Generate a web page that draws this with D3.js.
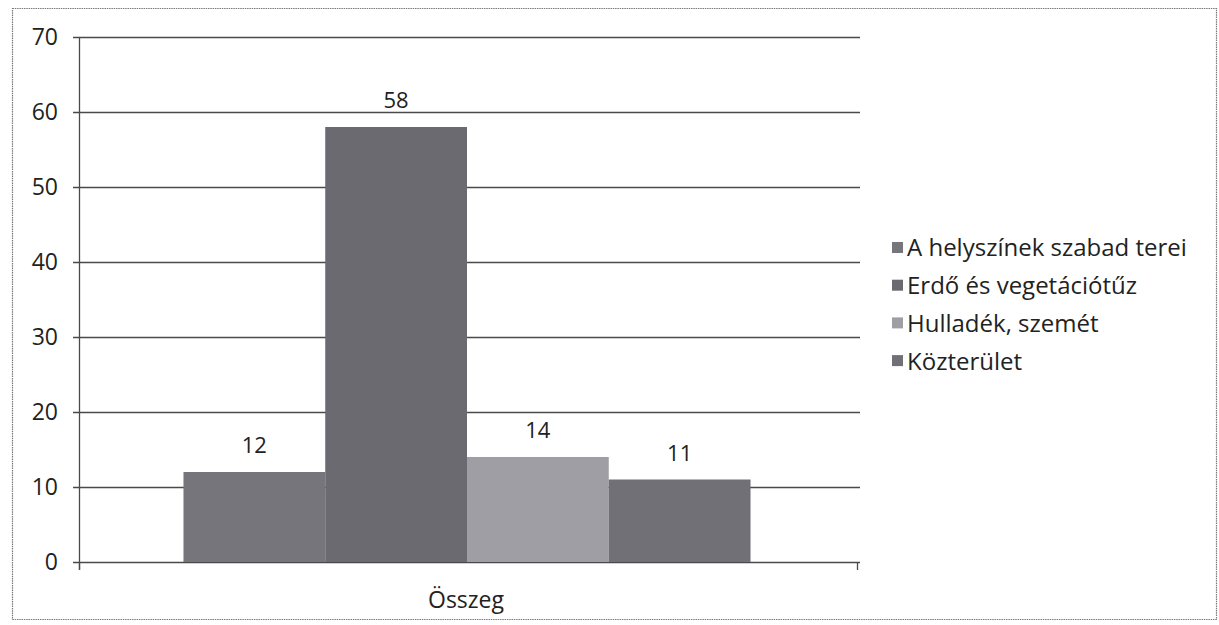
<!DOCTYPE html>
<html>
<head>
<meta charset="utf-8">
<script src="https://cdn.jsdelivr.net/npm/d3@7"></script>
<style>
  html, body { margin: 0; padding: 0; background: #fff; }
  svg { display: block; font-family: "Open Sans", "Noto Sans", sans-serif; }
</style>
</head>
<body>
<svg id="chart" width="1219" height="625"></svg>
<script>
const category = "Összeg";
const series = ["A helyszínek szabad terei", "Erdő és vegetációtűz", "Hulladék, szemét", "Közterület"];
const values = [12, 58, 14, 11];
const colors = ["#76757c", "#6b6a71", "#9f9ea4", "#717077"];
const yTicks = [0, 10, 20, 30, 40, 50, 60, 70];

(function () {
const svg = d3.select("#chart");

// outer frame
svg.append("rect")
  .attr("x", 12.5).attr("y", 8.5).attr("width", 1204).attr("height", 611)
  .attr("fill", "none").attr("stroke", "#7a7a7a").attr("stroke-width", 1.2)
  .attr("stroke-dasharray", "1.5,0.8");

const pLeft = 79, pRight = 857, pTop = 37, pBottom = 562;
const y = d3.scaleLinear().domain([0, 70]).range([pBottom, pTop]);
const xCat = d3.scaleBand().domain([category]).range([pLeft - 1, pRight - 1]).paddingInner(0).paddingOuter(0.186);
const xSer = d3.scaleBand().domain(series).range([xCat(category), xCat(category) + xCat.bandwidth()]);

const g = svg.append("g");

// gridlines
g.append("g").selectAll("line").data(yTicks).join("line")
  .attr("x1", pLeft - 6).attr("x2", 860)
  .attr("y1", d => Math.round(y(d)) + 0.5).attr("y2", d => Math.round(y(d)) + 0.5)
  .attr("stroke", "#4a4a4a").attr("stroke-width", 1.3);

// bars
g.append("g").selectAll("rect").data(series).join("rect")
  .attr("x", d => xSer(d))
  .attr("width", xSer.bandwidth())
  .attr("y", (d, i) => y(values[i]))
  .attr("height", (d, i) => y(0) - y(values[i]))
  .attr("fill", (d, i) => colors[i]);

// value labels
g.append("g").selectAll("text").data(series).join("text")
  .attr("x", d => xSer(d) + xSer.bandwidth() / 2)
  .attr("y", (d, i) => y(values[i]) - 19)
  .attr("text-anchor", "middle")
  .attr("font-size", 22).attr("fill", "#222")
  .text((d, i) => values[i]);

// y axis line
g.append("line").attr("x1", pLeft + 0.5).attr("x2", pLeft + 0.5)
  .attr("y1", pTop).attr("y2", pBottom + 8)
  .attr("stroke", "#4a4a4a").attr("stroke-width", 1.3);
// x axis end ticks
[pLeft, pRight].forEach(xx => {
  g.append("line").attr("x1", xx + 0.5).attr("x2", xx + 0.5)
    .attr("y1", pBottom).attr("y2", pBottom + 8)
    .attr("stroke", "#4a4a4a").attr("stroke-width", 1.3);
});

// y tick labels
g.append("g").selectAll("text").data(yTicks).join("text")
  .attr("x", 58).attr("y", d => y(d))
  .attr("dy", "0.35em")
  .attr("text-anchor", "end")
  .attr("font-size", 23).attr("fill", "#222")
  .text(d => d);

// category label
g.append("text")
  .attr("x", 466)
  .attr("y", 608)
  .attr("text-anchor", "middle")
  .attr("font-size", 23).attr("fill", "#222")
  .text(category);

// legend
const leg = svg.append("g").attr("transform", "translate(892,247)");
const rows = leg.selectAll("g").data(series).join("g")
  .attr("transform", (d, i) => `translate(0,${i * 37.7})`);
rows.append("rect").attr("x", 0).attr("y", -5).attr("width", 11).attr("height", 11)
  .attr("fill", (d, i) => colors[i]);
rows.append("text").attr("x", 15).attr("y", 1).attr("dy", "0.35em")
  .attr("font-size", 24).attr("fill", "#222")
  .text(d => d);
})();
</script>
</body>
</html>
